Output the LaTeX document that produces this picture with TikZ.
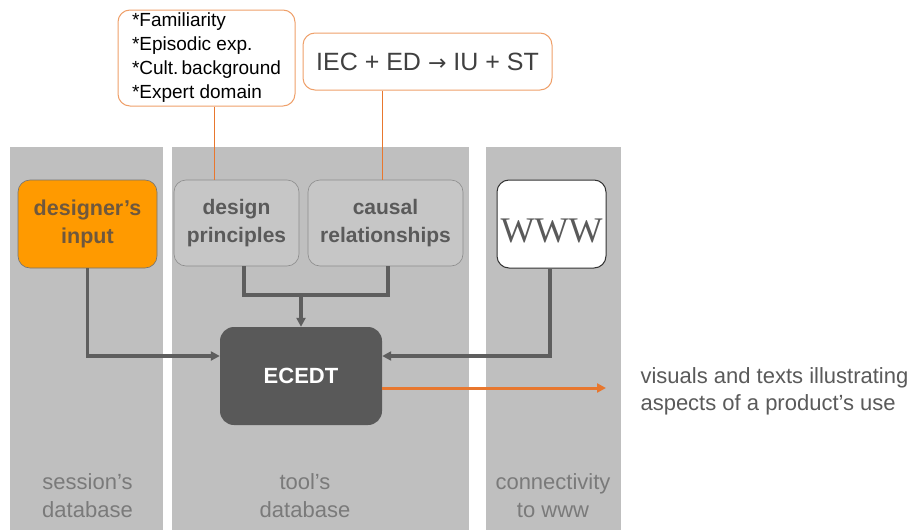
\documentclass[tikz,border=0pt]{standalone}
\usepackage{fontspec}
\setmainfont{Liberation Sans}
\newfontfamily\serifw{Liberation Serif}
\newfontfamily\dejavu{DejaVu Sans}
\usetikzlibrary{arrows.meta}
\definecolor{panel}{HTML}{BFBFBF}
\definecolor{boxgray}{HTML}{C6C6C6}
\definecolor{darkbox}{HTML}{595959}
\definecolor{conn}{HTML}{5E5E5E}
\definecolor{orfill}{HTML}{FF9A00}
\definecolor{orline}{HTML}{E8772E}
\definecolor{orborder}{HTML}{EFA06A}
\definecolor{txtgray}{HTML}{5A5A5A}
\definecolor{lblgray}{HTML}{7A7A7A}
\definecolor{destext}{HTML}{6E583E}
\definecolor{iectext}{HTML}{404040}
\tikzset{
  rbox/.style={rounded corners=12pt, inner sep=0pt, align=center},
  graybox/.style={rbox, fill=boxgray, draw=black!45, line width=0.6pt, text=txtgray,
    font=\fontsize{21}{28}\selectfont\bfseries},
  notebox/.style={rbox, fill=white, draw=orborder, line width=1pt},
  conline/.style={draw=conn, line width=3.2pt},
  conarrow/.style={conline, -{Triangle[length=9pt,width=9pt]}},
  oline/.style={draw=orline, line width=1pt},
  lbl/.style={align=center, text=lblgray, font=\fontsize{22}{28}\selectfont},
}
\begin{document}
\begin{tikzpicture}[x=1pt,y=-1pt]
\useasboundingbox (0,0) rectangle (916,530);
\fill[white] (0,0) rectangle (916,530);
% panels
\fill[panel] (10,147) rectangle (163,530);
\fill[panel] (172,147) rectangle (469,530);
\fill[panel] (486,147) rectangle (621,530);
% nodes
\node[rbox, fill=orfill, draw=black!55, line width=0.6pt, text=destext,
  font=\fontsize{21.5}{28}\selectfont\bfseries,
  minimum width=139pt, minimum height=88pt] (des) at (87.5,224) {designer’s\\input};
\node[graybox, minimum width=125pt, minimum height=86pt] (dp) at (236.5,223) {design\\principles};
\node[graybox, minimum width=155pt, minimum height=86pt] (cr) at (385.5,223) {causal\\relationships};
\node[rbox, fill=white, draw=black!80, line width=1pt, text=txtgray,
  font=\serifw\fontsize{36}{40}\selectfont, text height=36pt, text depth=0pt,
  minimum width=109pt, minimum height=88pt] (www) at (551.5,224) {WWW};
\node[rbox, rounded corners=14pt, fill=darkbox, text=white,
  font=\fontsize{22}{24}\selectfont\bfseries,
  minimum width=162pt, minimum height=98pt] (ecedt) at (301,376) {ECEDT};
\node[notebox, minimum width=177pt, minimum height=96pt, align=left,
  font=\fontsize{19}{24}\selectfont] (fam) at (206.5,58)
  {*Familiarity\\*Episodic exp.\\*Cult.\,background\\*Expert domain};
\node[notebox, minimum width=249pt, minimum height=57pt, text=iectext,
  font=\fontsize{25}{28}\selectfont] (iec) at (427.5,61.5) {IEC + ED {\dejavu\fontsize{22}{28}\selectfont →} IU + ST};
\node[anchor=west, align=left, text=txtgray, font=\fontsize{22}{27}\selectfont]
  (out) at (637,391) {visuals and texts illustrating\\aspects of a product’s use};
\node[lbl] (l1) at (87.5,496) {session’s\\database};
\node[lbl] (l2) at (305,496) {tool’s\\database};
\node[lbl] (l3) at (553,496) {connectivity\\to www};
% orange links
\draw[oline] ([xshift=7.5pt]fam.south) -- ([xshift=-22.5pt]dp.north);
\draw[oline] ([xshift=-3pt]cr.north |- iec.south) -- ([xshift=-3pt]cr.north);
% gray connectors
\coordinate (jl) at ([xshift=7.5pt]dp.south |- 0,295);
\coordinate (jr) at ([xshift=2.5pt]cr.south |- 0,295);
\draw[conline] ([xshift=7.5pt]dp.south) -- (jl) -- (jr) -- ([xshift=2.5pt]cr.south);
\draw[conarrow] (ecedt.north |- jl) -- (ecedt.north);
\draw[conarrow] (des.south) |- ([yshift=20pt]ecedt.west);
\draw[conarrow] ([xshift=-1.5pt]www.south) |- ([yshift=20pt]ecedt.east);
\draw[draw=orline, line width=3pt, -{Triangle[length=9pt,width=9pt]}]
  ([yshift=-12pt]ecedt.east) -- ([yshift=-12pt]ecedt.east -| 606,0);
\end{tikzpicture}
\end{document}
